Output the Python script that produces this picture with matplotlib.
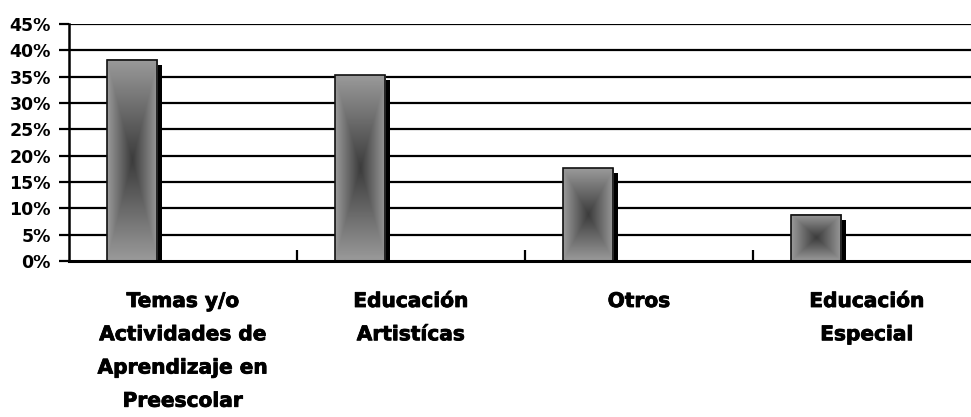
import numpy as np
import matplotlib.pyplot as plt
from matplotlib.colors import LinearSegmentedColormap
from matplotlib.patches import Rectangle
import matplotlib.patheffects as pe

categories = ['Temas y/o\nActividades de\nAprendizaje en\nPreescolar',
              'Educación\nArtistícas',
              'Otros',
              'Educación\nEspecial']
values = [38.2, 35.3, 17.6, 8.8]
yticks = [0, 5, 10, 15, 20, 25, 30, 35, 40, 45]

fig = plt.figure(figsize=(9.71, 4.17), dpi=100)
# plot area: left edge at 69px, 0% at 261px, 45% at 24px
ax = fig.add_axes([69 / 971, 156 / 417, 912 / 971, 237 / 417])
ax.set_xlim(-0.5, 3.5)
ax.set_ylim(0, 45)

for y in yticks[1:]:
    ax.axhline(y, color='black', lw=1.6, zorder=1)

# "from center" gradient: dark middle, lighter towards the edges
cmap = LinearSegmentedColormap.from_list('grad', ['#3c3c3c', '#9a9a9a'])
n = 200
gx = np.linspace(-1, 1, n)
X, Y = np.meshgrid(gx, gx)
grad = np.maximum(np.abs(X), np.abs(Y))

bar_w = 0.22
offset = -0.224
px_x = 1.0 / 228          # one slot is 228 px wide
px_y = 45.0 / 237
for i, v in enumerate(values):
    left = i + offset - bar_w / 2
    # drop shadow
    ax.add_patch(Rectangle((left + 5 * px_x, 0), bar_w, v - 5 * px_y,
                           facecolor='black', edgecolor='none', zorder=2))
    ax.imshow(grad, cmap=cmap, extent=[left, left + bar_w, 0, v],
              aspect='auto', interpolation='bilinear', zorder=3)
    ax.add_patch(Rectangle((left, 0), bar_w, v, facecolor='none',
                           edgecolor='#111111', lw=1.2, zorder=4))

ax.set_xlim(-0.5, 3.5)
ax.set_ylim(0, 45)

ax.set_yticks(yticks)
ax.set_yticklabels([f'{t}%' for t in yticks], fontsize=12.5, fontweight='bold',
                   family='DejaVu Sans')
ax.tick_params(axis='y', length=7, width=1.6, pad=6)

ax.set_xticks([0.5, 1.5, 2.5])
ax.set_xticklabels([])
ax.tick_params(axis='x', direction='in', length=8, width=1.6)

for s in ['top', 'right']:
    ax.spines[s].set_visible(False)
ax.spines['left'].set_linewidth(1.8)
ax.spines['bottom'].set_linewidth(2.2)
ax.spines['left'].set_zorder(5)
ax.spines['bottom'].set_zorder(5)

for i, lab in enumerate(categories):
    ax.text(i, -31 / 237, lab, transform=ax.get_xaxis_transform(),
            ha='center', va='top', fontsize=14.5, fontweight='bold',
            family='DejaVu Sans', linespacing=1.95,
            path_effects=[pe.withStroke(linewidth=0.6, foreground='black')])

fig.savefig('out.png', dpi=100)
